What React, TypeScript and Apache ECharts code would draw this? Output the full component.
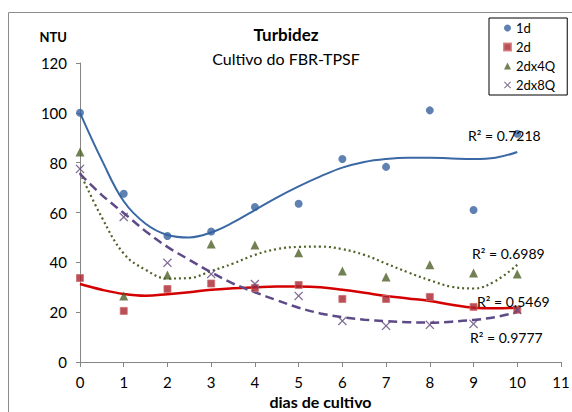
import React, { useEffect, useRef } from "react";
import * as echarts from "echarts";

// Measured turbidity (NTU) per day of culture
const DAYS = [0, 1, 2, 3, 4, 5, 6, 7, 8, 9, 10];
const SERIES_1D = [100, 67.5, 50.6, 52.4, 62.2, 63.5, 81.5, 78.3, 101, 61, 91.6];
const SERIES_2D = [33.7, 20.5, 29.3, 31.5, 29.7, 30.9, 25.3, 25.3, 26.1, 22.1, 21];
const SERIES_2DX4Q = [84.3, 26.5, 34.9, 47.4, 47, 43.8, 36.5, 34.1, 39, 35.7, 35.3];
const SERIES_2DX8Q = [77.5, 58.2, 39.8, 35.3, 31.3, 26.5, 16.5, 14.5, 14.9, 15.3, 20.9];

// Polynomial trend lines, sampled every half day
const TREND_X = [0, 0.5, 1, 1.5, 2, 2.5, 3, 3.5, 4, 4.5, 5, 5.5, 6, 6.5, 7, 7.5, 8, 8.5, 9, 9.5, 10];
const TREND_1D = [100, 81, 64.5, 55.5, 51, 50, 52, 56, 61, 66, 70.5, 74.5, 78, 80.3, 81.5, 82, 82, 81.7, 81.5, 82, 84.3];
const TREND_2D = [31.3, 29, 27.3, 26.6, 27.2, 28, 29, 29.6, 30, 30.3, 30.3, 30, 29, 27.8, 26.5, 25.5, 24.5, 23, 21.8, 21.6, 21.8];
const TREND_2DX4Q = [76, 58, 43.5, 37, 33.5, 33.7, 36.5, 39.5, 43, 45.3, 46.2, 46.3, 45.3, 43, 39.5, 36, 32.8, 30.2, 29.5, 32.5, 39];
const TREND_2DX8Q = [75.5, 67, 59.8, 52.5, 46.2, 41, 36, 31.5, 28, 24.8, 21.8, 19.5, 18, 17, 16.4, 16, 15.8, 16.2, 16.9, 18, 20];

const R2_LABELS = ["R² = 0.7218", "R² = 0.6989", "R² = 0.5469", "R² = 0.9777"];

const X_TICKS = [0, 11];
const Y_TICKS = [0, 120, 20];

const FONT = "Lato, 'Noto Sans', sans-serif";

const CROSS =
  "path://M0,1 L1,0 L5,4 L9,0 L10,1 L6,5 L10,9 L9,10 L5,6 L1,10 L0,9 L4,5 Z";

const pairs = (xs: number[], ys: number[]) => xs.map((x, i) => [x, ys[i]]);

export default function App() {
  const ref = useRef<HTMLDivElement>(null);

  useEffect(() => {
    if (!ref.current) return;
    const chart = echarts.init(ref.current, undefined, { renderer: "svg" });

    const trend = (data: number[], color: string, width: number, type: any) => ({
      type: "line",
      data: pairs(TREND_X, data),
      smooth: 0.4,
      showSymbol: false,
      symbol: "none",
      silent: true,
      lineStyle: { color, width, type },
      z: 2,
    });

    const r2 = (text: string, x: number, y: number) => ({
      type: "text",
      x,
      y,
      z: 10,
      style: { text, fontFamily: FONT, fontSize: 14, fill: "#000", verticalAlign: "middle" },
    });

    chart.setOption({
      animation: false,
      backgroundColor: "#ffffff",
      textStyle: { fontFamily: FONT },
      title: [
        {
          text: "Turbidez",
          left: "center",
          top: 26,
          padding: 0,
          textStyle: { fontFamily: FONT, fontSize: 17, fontWeight: "bold", color: "#000" },
        },
        {
          text: "Cultivo do FBR-TPSF",
          left: "center",
          top: 50,
          padding: 0,
          textStyle: { fontFamily: FONT, fontSize: 16, fontWeight: "normal", color: "#000" },
        },
      ],
      legend: {
        data: ["1d", "2d", "2dx4Q", "2dx8Q"],
        orient: "vertical",
        left: 489,
        top: 18,
        padding: [3, 12, 3, 14],
        itemGap: 5,
        itemWidth: 7,
        itemHeight: 7,
        borderColor: "#000",
        borderWidth: 1,
        backgroundColor: "#fff",
        textStyle: { fontFamily: FONT, fontSize: 13, color: "#000", lineHeight: 14 },
      },
      grid: {
        left: 80,
        right: 11,
        top: 63,
        bottom: 50,
        containLabel: false,
        outerBoundsMode: "none",
      },
      xAxis: {
        type: "value",
        min: X_TICKS[0],
        max: X_TICKS[1],
        interval: 1,
        name: "dias de cultivo",
        nameLocation: "middle",
        nameGap: 31,
        nameTextStyle: { fontFamily: FONT, fontSize: 16, fontWeight: "bold", color: "#000" },
        axisLine: { lineStyle: { color: "#868686", width: 1 } },
        axisTick: { show: true, length: 5, lineStyle: { color: "#868686" } },
        axisLabel: { fontFamily: FONT, fontSize: 15, color: "#000", margin: 12 },
        splitLine: { show: false },
      },
      yAxis: {
        type: "value",
        min: Y_TICKS[0],
        max: Y_TICKS[1],
        interval: Y_TICKS[2],
        name: "NTU",
        nameLocation: "end",
        nameGap: 20,
        nameTextStyle: {
          fontFamily: FONT,
          fontSize: 13,
          fontWeight: "bold",
          color: "#000",
          align: "right",
          padding: [0, 13, 0, 0],
        },
        axisLine: { show: true, lineStyle: { color: "#868686", width: 1 } },
        axisTick: { show: true, length: 4, lineStyle: { color: "#868686" } },
        axisLabel: { fontFamily: FONT, fontSize: 15, color: "#000", margin: 13 },
        splitLine: { show: false },
      },
      series: [
        trend(TREND_1D, "#3A68A4", 2, "solid"),
        trend(TREND_2DX4Q, "#4F6228", 2.2, [2, 3]),
        trend(TREND_2D, "#D40000", 2.5, "solid"),
        trend(TREND_2DX8Q, "#5E4A87", 2.5, [9, 5]),
        {
          name: "1d",
          type: "scatter",
          data: pairs(DAYS, SERIES_1D),
          symbol: "circle",
          symbolSize: 8,
          itemStyle: { color: "#36629E" },
          z: 3,
        },
        {
          name: "2d",
          type: "scatter",
          data: pairs(DAYS, SERIES_2D),
          symbol: "rect",
          symbolSize: 7,
          itemStyle: { color: "#A8232E", borderColor: "#CF6E6E", borderWidth: 1 },
          z: 3,
        },
        {
          name: "2dx4Q",
          type: "scatter",
          data: pairs(DAYS, SERIES_2DX4Q),
          symbol: "triangle",
          symbolSize: 9,
          itemStyle: { color: "#4F6228" },
          z: 3,
        },
        {
          name: "2dx8Q",
          type: "scatter",
          data: pairs(DAYS, SERIES_2DX8Q),
          symbol: CROSS,
          symbolSize: 9,
          itemStyle: { color: "#5F497A" },
          z: 3,
        },
      ],
      graphic: [
        {
          type: "rect",
          silent: true,
          z: -10,
          shape: { x: 8.5, y: 12.5, width: 700, height: 500 },
          style: { fill: "none", stroke: "#8C8C8C", lineWidth: 1 },
        },
        r2(R2_LABELS[0], 468, 135),
        r2(R2_LABELS[1], 472, 253),
        r2(R2_LABELS[2], 477, 301),
        r2(R2_LABELS[3], 470, 337),
      ],
    });

    return () => chart.dispose();
  }, []);

  return (
    <div
      ref={ref}
      style={{ position: "absolute", left: 0, top: 0, width: 572, height: 412, background: "#fff" }}
    />
  );
}
